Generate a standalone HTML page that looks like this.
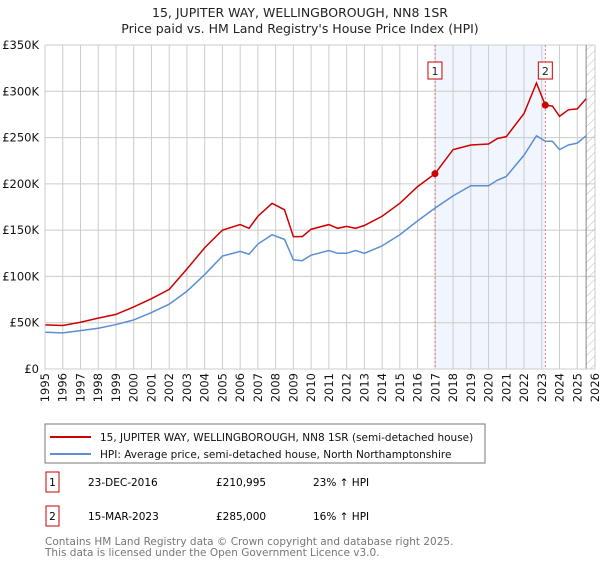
<!DOCTYPE html>
<html><head><meta charset="utf-8"><style>
body{margin:0;background:#fff;font-family:"Liberation Sans","DejaVu Sans",sans-serif;}
svg text{font-family:"DejaVu Sans","Liberation Sans",sans-serif;}
</style></head><body>
<svg id="chart" width="600" height="560" xmlns="http://www.w3.org/2000/svg">
<text x="300" y="17" text-anchor="middle" font-size="12.5" fill="#222">15, JUPITER WAY, WELLINGBOROUGH, NN8 1SR</text>
<text x="300" y="33" text-anchor="middle" font-size="12.5" fill="#222">Price paid vs. HM Land Registry's House Price Index (HPI)</text>
<g id="grid"></g><g id="marks"></g><g id="axes"></g>
<rect x="45" y="424" width="440" height="39" fill="#fff" stroke="#777"/>
<line x1="50" y1="437" x2="91" y2="437" stroke="#cc0000" stroke-width="2"/>
<text x="100" y="441" font-size="10.5" fill="#111">15, JUPITER WAY, WELLINGBOROUGH, NN8 1SR (semi-detached house)</text>
<line x1="50" y1="454" x2="91" y2="454" stroke="#5b8fd4" stroke-width="2"/>
<text x="100" y="458" font-size="10.5" fill="#111">HPI: Average price, semi-detached house, North Northamptonshire</text>
<g>
<rect x="46" y="472" width="13" height="20" fill="#fff" stroke="#cc0000"/><text x="52.5" y="486" text-anchor="middle" font-size="10.5">1</text>
<text x="88" y="486" font-size="10.5">23-DEC-2016</text><text x="216" y="486" font-size="10.5">£210,995</text><text x="313" y="486" font-size="10.5">23% ↑ HPI</text></g>
<g>
<rect x="46" y="506" width="13" height="20" fill="#fff" stroke="#cc0000"/><text x="52.5" y="520" text-anchor="middle" font-size="10.5">2</text>
<text x="88" y="520" font-size="10.5">15-MAR-2023</text><text x="216" y="520" font-size="10.5">£285,000</text><text x="313" y="520" font-size="10.5">16% ↑ HPI</text></g>
<text x="45" y="545" font-size="10.5" fill="#777">Contains HM Land Registry data © Crown copyright and database right 2025.</text>
<text x="45" y="556" font-size="10.5" fill="#777">This data is licensed under the Open Government Licence v3.0.</text>
</svg>
<script>
const hpiYears=[1995,1996,1997,1998,1999,2000,2001,2002,2003,2004,2005,2006,2006.5,2007,2007.8,2008.5,2009,2009.5,2010,2011,2011.5,2012,2012.5,2013,2014,2015,2016,2017,2018,2019,2020,2020.5,2021,2022,2022.7,2023.2,2023.6,2024,2024.5,2025,2025.5];
const hpiValues=[39.7,39,41.5,44,48,53,61,70,84,102,122,127,124,135,145,140,118,117,123,128,125,125,128,125,133,145,160,174,187,198,198,204,208,231,252,246,246,237,242,244,252];
const priceYears=[1995,1996,1997,1998,1999,2000,2001,2002,2003,2004,2005,2006,2006.5,2007,2007.8,2008.5,2009,2009.5,2010,2011,2011.5,2012,2012.5,2013,2014,2015,2016,2016.98,2018,2019,2020,2020.5,2021,2022,2022.7,2023.2,2023.6,2024,2024.5,2025,2025.5];
const priceValues=[47.6,47,50.5,55,59,67,76,86,108,131,150,156,152,165,179,172,143,143,151,156,152,154,152,155,165,179,197,211,237,242,243,249,251,276,309,285,284,273,280,281,292];
const saleYears=[2016.98,2023.2];
const saleValues=[210.995,285];
const saleLabels=["1","2"];
const yTicks=[0,50,100,150,200,250,300,350];
const yTickLabels=["£0","£50K","£100K","£150K","£200K","£250K","£300K","£350K"];
const xTicks=[1995,1996,1997,1998,1999,2000,2001,2002,2003,2004,2005,2006,2007,2008,2009,2010,2011,2012,2013,2014,2015,2016,2017,2018,2019,2020,2021,2022,2023,2024,2025,2026];

const L=45,R=595,T=45,B=369;
const xs=y=>L+(y-1995)*(R-L)/31;
const ys=v=>B-v*(B-T)/350;
const NS="http://www.w3.org/2000/svg";
function mk(tag,parent,attrs){const e=document.createElementNS(NS,tag);for(const k in attrs)e.setAttribute(k,attrs[k]);parent.appendChild(e);return e;}
const grid=document.getElementById('grid'),marks=document.getElementById('marks'),axes=document.getElementById('axes');
const sh=mk('rect',grid,{x:xs(saleYears[0]),y:T,width:xs(saleYears[1])-xs(saleYears[0]),height:B-T,fill:'#f1f5fd'});


xTicks.forEach(t=>{
 const l=mk('line',grid,{x1:xs(t),x2:xs(t),y1:T,y2:B,stroke:'#ccc','stroke-width':1});
 
 
 const tx=mk('text',axes,{x:0,y:0,'font-size':11.5,fill:'#111','text-anchor':'end',transform:`translate(${xs(t)+4},373) rotate(-90)`});
 tx.textContent=t;
 
 
});
yTicks.forEach((t,i)=>{
 const l=mk('line',grid,{x1:L,x2:R,y1:ys(t),y2:ys(t),stroke:'#ccc','stroke-width':1});
 
 
 const tx=mk('text',axes,{x:L-6,y:ys(t)+4,'font-size':11.5,fill:'#111','text-anchor':'end'});
 tx.textContent=yTickLabels[i];
 
 
});
const defs=mk('defs',grid,{});
const pat=mk('pattern',defs,{id:'hatch',width:6,height:6,patternUnits:'userSpaceOnUse',patternTransform:'rotate(45)'});
mk('line',pat,{x1:0,y1:0,x2:0,y2:6,stroke:'#bbb','stroke-width':1});
const hx=xs(2025.5);
const hr=mk('rect',grid,{x:hx,y:T,width:R-hx,height:B-T,fill:'url(#hatch)'});


const hl=mk('line',grid,{x1:hx,x2:hx,y1:T,y2:B,stroke:'#888','stroke-width':1});


saleYears.forEach((y,i)=>{
 const l=mk('line',marks,{x1:xs(y),x2:xs(y),y1:T,y2:B,stroke:'#e06060','stroke-width':0.8,'stroke-dasharray':'2,2'});
 
 
});
const hp=mk('path',marks,{d:hpiYears.map((y,i)=>(i?'L':'M')+xs(y)+','+ys(hpiValues[i])).join(''),fill:'none',stroke:'#5b8fd4','stroke-width':1.5});


const pp=mk('path',marks,{d:priceYears.map((y,i)=>(i?'L':'M')+xs(y)+','+ys(priceValues[i])).join(''),fill:'none',stroke:'#cc0000','stroke-width':1.5});


saleYears.forEach((y,i)=>{
 const c=mk('circle',marks,{cx:xs(y),cy:ys(saleValues[i]),r:3.5,fill:'#cc0000'});
 
 
 const bx=xs(y)-7;
 const r=mk('rect',marks,{x:bx,y:62,width:14,height:17,fill:'#fff',stroke:'#cc0000'});
 
 
 const t=mk('text',marks,{x:xs(y),y:75,'font-size':11,'text-anchor':'middle',fill:'#222'});
 t.textContent=saleLabels[i];
 
 
});
const ax=mk('path',axes,{d:`M${L},${T}L${L},${B}L${R},${B}`,fill:'none',stroke:'#ccc'});


</script>
</body></html>
